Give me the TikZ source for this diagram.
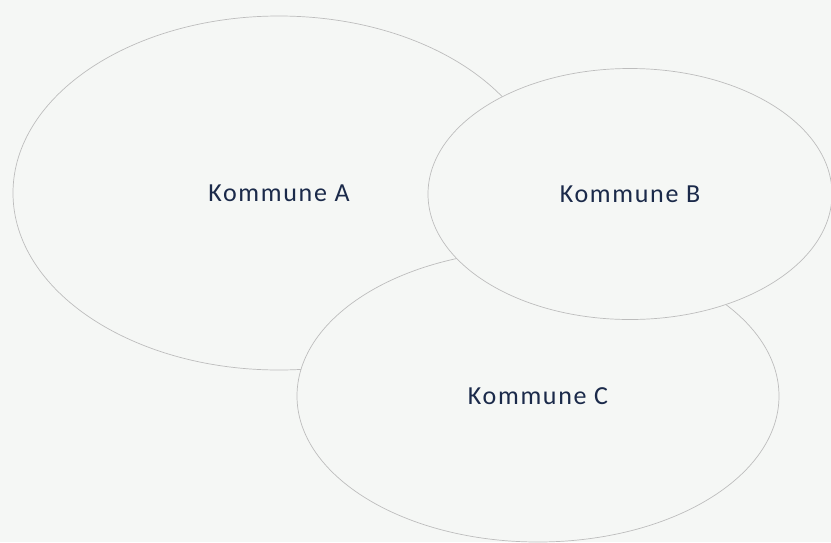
\documentclass[tikz,border=0pt]{standalone}
\usepackage{fontspec}
\setmainfont[LetterSpace=6.5]{Carlito}
\usepackage{tikz}
\usetikzlibrary{shapes.geometric}
\definecolor{bg}{HTML}{F5F7F5}
\definecolor{rim}{HTML}{BDBDBD}
\definecolor{navy}{HTML}{1B2A4A}
\begin{document}
\begin{tikzpicture}[x=1pt,y=-1pt,font=\fontsize{26}{30}\selectfont]
\fill[bg] (0,0) rectangle (831,542);
\useasboundingbox (0,0) rectangle (831,542);

\draw (279,193) node[ellipse,draw=rim,fill=bg,line width=0.7pt,text=navy,minimum width=532pt,minimum height=354pt] (a) {Kommune A};
\draw (538,396) node[ellipse,draw=rim,fill=bg,line width=0.7pt,text=navy,minimum width=482pt,minimum height=292pt] (c) {Kommune C};
\draw (630,194) node[ellipse,draw=rim,fill=bg,line width=0.7pt,text=navy,minimum width=404pt,minimum height=251pt] (b) {Kommune B};
\end{tikzpicture}
\end{document}
